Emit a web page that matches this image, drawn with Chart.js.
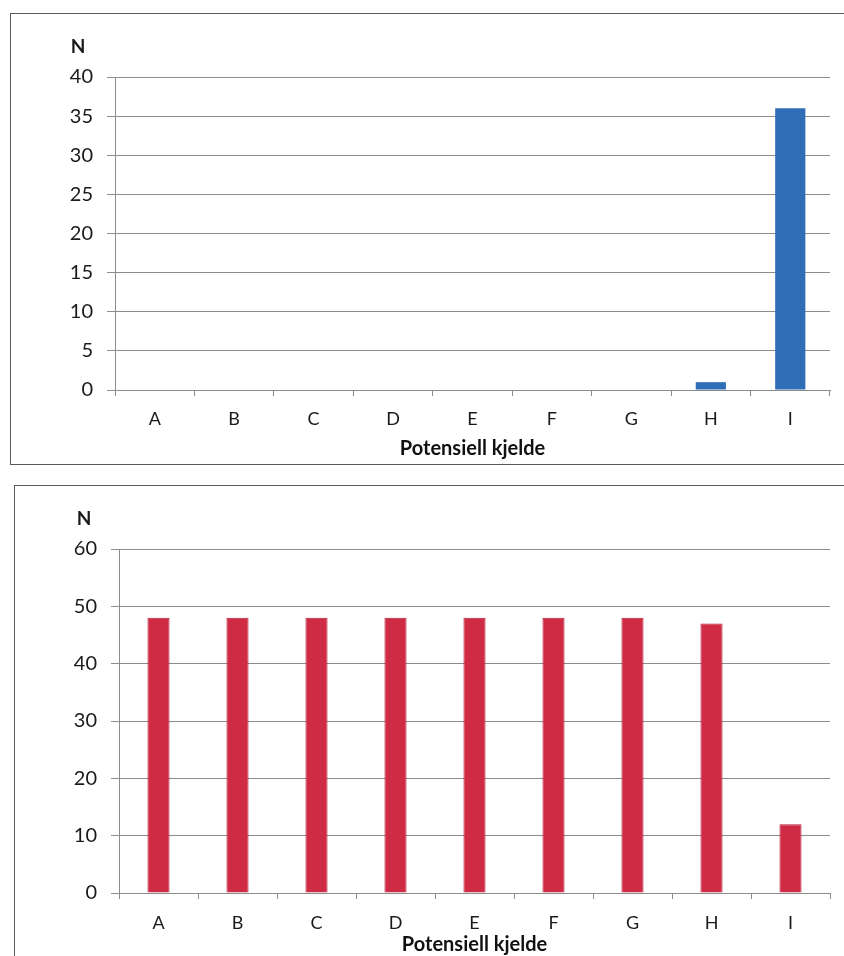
<!DOCTYPE html>
<html lang="no">
<head>
    <meta charset="UTF-8">
    <title>Potensiell kjelde</title>
    <script src="https://cdn.jsdelivr.net/npm/chart.js"></script>
    <style>
        body {
            margin: 0;
            background: #ffffff;
            font-family: Lato, "Open Sans", sans-serif;
        }
        .panel {
            position: absolute;
            border: 1px solid #5a5a5a;
            background: #fff;
        }
        #panelTop {
            left: 10px;
            top: 13px;
            width: 850px;
            height: 450px;
        }
        #panelBottom {
            left: 14px;
            top: 485px;
            width: 850px;
            height: 480px;
        }
        canvas { display: block; }
    </style>
</head>
<body>
    <div class="panel" id="panelTop"><canvas id="chartTop" width="834" height="450"></canvas></div>
    <div class="panel" id="panelBottom"><canvas id="chartBottom" width="830" height="471"></canvas></div>
<script>
    // categories and counts
    const categories = ['A', 'B', 'C', 'D', 'E', 'F', 'G', 'H', 'I'];
    const topValues = [0, 0, 0, 0, 0, 0, 0, 1, 36];
    const bottomValues = [48, 48, 48, 48, 48, 48, 48, 47, 12];
    const topTicks = { max: 40, step: 5 };
    const bottomTicks = { max: 60, step: 10 };
    const xTitle = 'Potensiell kjelde';
    const yTitle = 'N';

    const fontFamily = 'Lato, "Open Sans", sans-serif';
    const gridColor = '#8c8c8c';

    // draws the horizontal "N" above the y axis
    const yLabelPlugin = {
        id: 'yLabel',
        afterDraw(chart, args, opts) {
            const ctx = chart.ctx;
            const area = chart.chartArea;
            ctx.save();
            ctx.font = 'bold 19px ' + fontFamily;
            ctx.fillStyle = '#1a1a1a';
            ctx.textAlign = 'center';
            ctx.textBaseline = 'middle';
            ctx.fillText(yTitle, area.left + opts.dx, area.top + opts.dy);
            ctx.restore();
        }
    };

    function makeChart(id, values, ticks, color, border, bw, barPct, axisHeight, titleBottom, labelPad, nPos) {
        return new Chart(document.getElementById(id), {
            type: 'bar',
            data: {
                labels: categories,
                datasets: [{
                    data: values,
                    backgroundColor: color,
                    borderColor: border,
                    borderWidth: bw,
                    barPercentage: barPct,
                    categoryPercentage: 1
                }]
            },
            options: {
                responsive: false,
                animation: false,
                layout: { padding: { left: 0, top: 63, right: 15, bottom: 0 } },
                plugins: {
                    legend: { display: false },
                    tooltip: { enabled: false },
                    yLabel: nPos
                },
                scales: {
                    x: {
                        grid: {
                            display: true,
                            drawOnChartArea: false,
                            color: gridColor,
                            tickLength: 6
                        },
                        border: { color: gridColor },
                        ticks: {
                            color: '#1a1a1a',
                            padding: labelPad,
                            font: { family: fontFamily, size: 18 }
                        },
                        title: {
                            display: true,
                            text: xTitle,
                            color: '#111',
                            font: { family: fontFamily, size: 20, weight: 'bold' },
                            padding: { top: 0, bottom: titleBottom }
                        },
                        afterFit(scale) { scale.height = axisHeight; }
                    },
                    y: {
                        min: 0,
                        max: ticks.max,
                        grid: {
                            color: gridColor,
                            tickLength: 8
                        },
                        border: { color: gridColor },
                        ticks: {
                            stepSize: ticks.step,
                            color: '#1a1a1a',
                            padding: 14,
                            font: { family: fontFamily, size: 20 }
                        },
                        afterFit(scale) { scale.width = 104; }
                    }
                }
            },
            plugins: [yLabelPlugin]
        });
    }

    makeChart('chartTop', topValues, topTicks, '#2f6db6', '#2f6db6', 0, 0.38, 74, 3, 12, { dx: -37, dy: -30 });
    makeChart('chartBottom', bottomValues, bottomTicks, '#cf2b45', '#b51f37', 1, 0.28, 64, 0, 13, { dx: -35, dy: -30 });
</script>
</body>
</html>
